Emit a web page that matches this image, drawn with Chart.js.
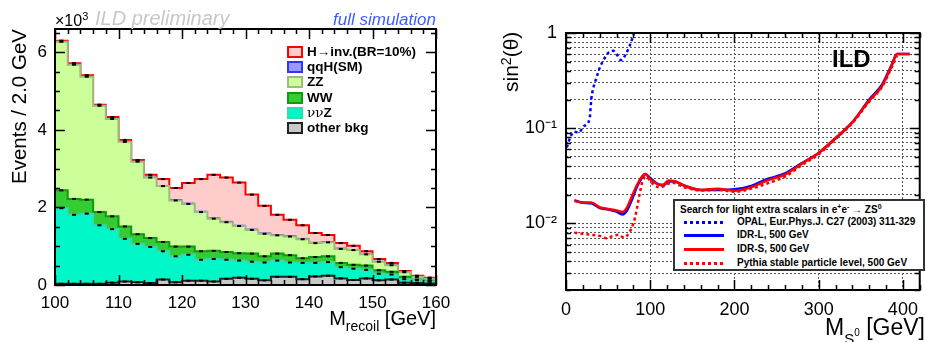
<!DOCTYPE html>
<html>
<head>
<meta charset="utf-8">
<title>ILD recoil mass and light scalar search</title>
<script src="https://cdn.jsdelivr.net/npm/chart.js@4.4.1/dist/chart.umd.min.js"></script>
<style>
  body { margin: 0; background: #fff; }
  #page { position: relative; width: 927px; height: 342px; overflow: hidden;
          font-family: "Liberation Sans", Arial, Helvetica, sans-serif; color: #000; }
  canvas { position: absolute; top: 0; }
  .t { position: absolute; white-space: nowrap; line-height: 1; }
  .rot { transform: rotate(-90deg); transform-origin: left top; }
  .sub { position: relative; }
  .leg-row { position: absolute; left: 0; height: 15px; white-space: nowrap;
             font-weight: bold; font-size: 13.5px; line-height: 15px; }
  .leg-box { position: absolute; left: 0; top: 2px; width: 12px; height: 8px; border: 2px solid; }
  .leg-txt { position: absolute; left: 20px; top: 0; }
  #scalarLegend { position: absolute; left: 673px; top: 199px; width: 248px; height: 68px;
                  border: 2px solid #333; background: #fff; }
  .sl-row { position: absolute; left: 0; height: 12px; width: 246px; }
  .sl-line { position: absolute; left: 9px; top: 5px; width: 40px; height: 3px; }
  .sl-txt { position: absolute; left: 62px; top: 0; font-weight: bold; font-size: 10px; line-height: 12px; white-space: nowrap; }
</style>
</head>
<body>
<div id="page">
  <canvas id="recoil" width="460" height="342" style="left:0"></canvas>
  <canvas id="scalar" width="467" height="342" style="left:460px"></canvas>

  <!-- left panel texts -->
  <div class="t rot" style="left:9px;top:184px;font-size:20.5px">Events / 2.0 GeV</div>
  <div class="t" style="left:55px;top:13px;font-size:16px">×10<span class="sub" style="top:-6px;font-size:11px">3</span></div>
  <div class="t" style="left:95px;top:8px;font-size:20px;font-style:italic;color:#c8c8c8">ILD preliminary</div>
  <div class="t" style="right:491px;top:11px;font-size:17px;font-style:italic;color:#3d5cff">full simulation</div>
  <div class="t" style="right:491px;top:308px;font-size:20px">M<span class="sub" style="top:6px;font-size:14px">recoil</span> [GeV]</div>
  <div id="recoilLegend" style="position:absolute;left:287px;top:44px;width:150px;height:95px"></div>

  <!-- right panel texts -->
  <div class="t rot" style="left:500px;top:92px;font-size:21px">sin<span class="sub" style="top:-7px;font-size:14px">2</span>(θ)</div>
  <div class="t" style="left:832px;top:47px;font-size:24px;font-weight:bold">ILD</div>
  <div class="t" style="right:2px;top:316px;font-size:23px">M<span class="sub" style="top:9px;font-size:15px">S<span class="sub" style="top:-8px;font-size:10px">0</span></span> [GeV]</div>
  <div id="scalarLegend">
    <div class="t" style="left:5px;top:4px;font-size:10px;font-weight:bold">Search for light extra scalars in e<span class="sub" style="top:-4px;font-size:7px">+</span>e<span class="sub" style="top:-4px;font-size:7px">-</span> → ZS<span class="sub" style="top:-4px;font-size:7px">0</span></div>
  </div>
</div>

<script>
// ---------------- left panel: recoil mass, stacked (units of 10^3 events / 2 GeV) ----------------
const binLow = [100, 102, 104, 106, 108, 110, 112, 114, 116, 118, 120, 122, 124, 126, 128,
                130, 132, 134, 136, 138, 140, 142, 144, 146, 148, 150, 152, 154, 156, 158];
const binWidth = 2;

const otherBkg = [0.03, 0.03, 0.03, 0.03, 0.06, 0.09, 0.07, 0.05, 0.14, 0.07, 0.11, 0.11, 0.09, 0.16, 0.19,
                  0.16, 0.12, 0.21, 0.21, 0.15, 0.22, 0.24, 0.17, 0.13, 0.17, 0.12, 0.14, 0.06, 0.05, 0.04];
const nunuZ = [1.95, 1.78, 1.81, 1.51, 1.38, 1.10, 0.99, 0.93, 0.73, 0.67, 0.67, 0.54, 0.58, 0.49, 0.44,
               0.44, 0.46, 0.42, 0.37, 0.42, 0.35, 0.35, 0.29, 0.29, 0.22, 0.17, 0.13, 0.09, 0.07, 0.05];
const wwBkg = [0.46, 0.41, 0.36, 0.34, 0.33, 0.32, 0.25, 0.23, 0.24, 0.25, 0.21, 0.22, 0.21, 0.20, 0.19,
               0.21, 0.16, 0.18, 0.19, 0.12, 0.15, 0.15, 0.11, 0.10, 0.11, 0.09, 0.07, 0.06, 0.02, 0.02];
const zzBkg = [3.83, 3.46, 3.17, 2.74, 2.51, 2.18, 1.87, 1.56, 1.44, 1.19, 1.10, 1.01, 0.83, 0.77, 0.70,
               0.61, 0.58, 0.47, 0.48, 0.49, 0.36, 0.36, 0.36, 0.38, 0.29, 0.22, 0.17, 0.12, 0.07, 0.05];
const qqHsm = [0.01, 0.01, 0.01, 0.01, 0.01, 0.01, 0.01, 0.01, 0.01, 0.02, 0.02, 0.02, 0.02, 0.02, 0.02,
               0.02, 0.02, 0.02, 0.02, 0.02, 0.02, 0.02, 0.02, 0.01, 0.01, 0.01, 0.01, 0.01, 0.01, 0.01];
const hInv = [0.02, 0.03, 0.03, 0.02, 0.04, 0.04, 0.03, 0.06, 0.17, 0.30, 0.52, 0.83, 1.11, 1.13, 1.10,
              0.89, 0.70, 0.51, 0.41, 0.34, 0.24, 0.17, 0.13, 0.10, 0.07, 0.06, 0.05, 0.02, 0.02, 0.02];

// bottom of the stack first
const stackVals = [otherBkg, nunuZ, wwBkg, zzBkg, qqHsm, hInv];
const stackNames = ['other bkg', '<span style="font-family:\'DejaVu Serif\',serif;font-weight:normal">νν</span>Z',
                    'WW', 'ZZ', 'qqH(SM)', 'H→inv.(BR=10%)'];
const stackFill = ['#c8c8c8', '#00f8c8', '#33cc33', '#ccff99', '#9999ff', '#ffcccc'];
const stackLine = ['#222222', '#30dcb4', '#119911', '#9cbc7c', '#3333ff', '#ff0000'];

const recoilXTicks = [100, 110, 120, 130, 140, 150, 160];
const recoilYTicks = [0, 2, 4, 6];

// each bin as a step: value holds from the low edge to the next edge
function steps(vals) {
  const pts = binLow.map((x, i) => ({ x: x, y: vals[i] }));
  pts.push({ x: binLow[binLow.length - 1] + binWidth, y: vals[vals.length - 1] });
  return pts;
}

// draws ROOT-like ticks inside the frame plus the frame itself
const frameTicks = {
  id: 'frameTicks',
  afterDraw(chart, args, opts) {
    const ctx = chart.ctx, a = chart.chartArea;
    const xs = chart.scales.x, ys = chart.scales.y;
    ctx.save();
    ctx.strokeStyle = '#000';
    ctx.lineWidth = 1.5;
    ctx.beginPath();
    opts.x.forEach(([v, len]) => {
      const p = Math.round(xs.getPixelForValue(v)) + 0.5;
      ctx.moveTo(p, a.bottom); ctx.lineTo(p, a.bottom - len);
      ctx.moveTo(p, a.top); ctx.lineTo(p, a.top + len);
    });
    opts.y.forEach(([v, len]) => {
      const p = Math.round(ys.getPixelForValue(v)) + 0.5;
      ctx.moveTo(a.left, p); ctx.lineTo(a.left + len, p);
      ctx.moveTo(a.right, p); ctx.lineTo(a.right - len, p);
    });
    ctx.stroke();
    ctx.lineWidth = 2;
    ctx.strokeRect(a.left, a.top, a.right - a.left, a.bottom - a.top);
    ctx.restore();
  }
};

const recoilTickX = [];
for (let v = 100; v <= 160; v += 2) recoilTickX.push([v, v % 10 === 0 ? 10 : 5]);
const recoilTickY = [];
for (let k = 0; k <= 13; k++) recoilTickY.push([k * 0.5, k % 4 === 0 ? 10 : 5]);

const recoilSets = stackVals.map((vals, k) => ({
  label: stackNames[k],
  data: steps(vals),
  stepped: true,
  fill: k === 0 ? 'origin' : '-1',
  backgroundColor: stackFill[k],
  borderColor: stackLine[k],
  borderWidth: k === 4 ? 1 : 2,
  pointRadius: 0,
  order: 1
}));

// small black markers on top of each component
let running = binLow.map(() => 0);
stackVals.forEach((vals, k) => {
  running = running.map((r, i) => r + vals[i]);
  if (k === 4) return;
  recoilSets.push({
    label: 'marker' + k,
    data: running.map((r, i) => ({ x: binLow[i] + binWidth / 2, y: r })),
    yAxisID: 'ym',
    showLine: false,
    pointStyle: 'line',
    pointRadius: 2,
    pointBorderWidth: 2,
    pointBorderColor: '#000',
    order: 0
  });
});

new Chart(document.getElementById('recoil'), {
  type: 'line',
  data: { datasets: recoilSets },
  plugins: [frameTicks],
  options: {
    responsive: false,
    animation: false,
    layout: { padding: { left: 0, right: 24, top: 29, bottom: 0 } },
    plugins: {
      legend: { display: false },
      tooltip: { enabled: false },
      frameTicks: { x: recoilTickX, y: recoilTickY }
    },
    scales: {
      x: {
        type: 'linear', min: 100, max: 160,
        grid: { display: false, drawTicks: false },
        border: { display: false },
        ticks: { color: '#000', padding: 8, maxRotation: 0, autoSkip: false,
                 font: { size: 17, family: 'Liberation Sans' } },
        afterBuildTicks: s => { s.ticks = recoilXTicks.map(v => ({ value: v })); },
        afterFit: s => { s.height = 57; }
      },
      y: {
        stacked: true, min: 0, max: 6.6,
        grid: { display: false, drawTicks: false },
        border: { display: false },
        ticks: { color: '#000', padding: 8, autoSkip: false,
                 font: { size: 17, family: 'Liberation Sans' } },
        afterBuildTicks: s => { s.ticks = recoilYTicks.map(v => ({ value: v })); },
        afterFit: s => { s.width = 55; }
      },
      ym: { display: false, min: 0, max: 6.6 }
    }
  }
});

// HTML legend, top row = top of the stack
const recoilLegend = document.getElementById('recoilLegend');
for (let k = stackVals.length - 1, row = 0; k >= 0; k--, row++) {
  const r = document.createElement('div');
  r.className = 'leg-row';
  r.style.top = (row * 15.2) + 'px';
  r.innerHTML = '<div class="leg-box" style="background:' + stackFill[k] + ';border-color:' +
                (k === 0 ? '#222' : stackLine[k]) + '"></div><div class="leg-txt">' + stackNames[k] + '</div>';
  recoilLegend.appendChild(r);
}

// ---------------- right panel: sin^2(theta) limits vs scalar mass ----------------
const opalMass = [1, 5, 10, 15, 21, 28, 30, 32, 36, 40, 44, 51, 56, 60, 65, 71, 76, 81, 84];
const opalSin2 = [0.063, 0.080, 0.092, 0.090, 0.105, 0.125, 0.20, 0.255, 0.335, 0.43, 0.51, 0.63, 0.65,
                  0.60, 0.52, 0.60, 0.75, 1.0, 1.2];

const idrMass = [10, 20, 30, 40, 50, 60, 67, 72, 78, 84, 90, 94, 100, 108, 115, 122, 128, 140, 160, 180,
                 200, 220, 240, 260, 280, 300, 320, 340, 360, 375, 387, 393, 408];
const idrL = [0.0175, 0.0165, 0.0163, 0.0145, 0.0140, 0.0133, 0.0124, 0.0135, 0.0175, 0.024, 0.030, 0.033,
              0.030, 0.0262, 0.0250, 0.0275, 0.0276, 0.0250, 0.0225, 0.0225, 0.0228, 0.0248, 0.0295, 0.0335,
              0.043, 0.055, 0.078, 0.115, 0.20, 0.285, 0.47, 0.60, 0.60];
const idrS = [0.0172, 0.0166, 0.0166, 0.0148, 0.0142, 0.0137, 0.0132, 0.0145, 0.019, 0.025, 0.031, 0.033,
              0.029, 0.026, 0.0255, 0.0282, 0.0280, 0.0250, 0.0225, 0.0232, 0.0220, 0.0240, 0.0285, 0.0325,
              0.0425, 0.055, 0.079, 0.116, 0.195, 0.275, 0.46, 0.60, 0.60];

const pythiaMass = [10, 20, 30, 40, 48, 56, 62, 69, 75, 80, 84, 87, 91, 95, 100, 105, 112, 120, 126, 140,
                    160, 180, 200, 220, 240, 260, 280, 300, 320, 340, 360, 375, 387, 393];
const pythiaSin2 = [0.0080, 0.0078, 0.0076, 0.0074, 0.0070, 0.0074, 0.0076, 0.0071, 0.0080, 0.0100, 0.0140,
                    0.0195, 0.028, 0.031, 0.028, 0.025, 0.0240, 0.0258, 0.0268, 0.0240, 0.0222, 0.0225,
                    0.0215, 0.0232, 0.0265, 0.031, 0.041, 0.053, 0.077, 0.113, 0.19, 0.27, 0.44, 0.58];

const scalarNames = ['OPAL, Eur.Phys.J. C27 (2003) 311-329', 'IDR-L, 500 GeV', 'IDR-S, 500 GeV',
                     'Pythia stable particle level, 500 GeV'];
const scalarColor = ['#0000ff', '#0000ff', '#ff0000', '#ff0000'];
const scalarDotted = [true, false, false, true];

const scalarXTicks = [0, 100, 200, 300, 400];
const scalarYLabelVals = [0.01, 0.1, 1];
const scalarYLabelText = ['10⁻²', '10⁻¹', '1'];

// log grid: 2..9 x each decade between 0.002 and 1
const scalarYGrid = [];
const scalarTickY = [];
for (let d = -3; d <= 0; d++) {
  for (let m = 1; m <= 9; m++) {
    const v = m * Math.pow(10, d);
    if (v < 0.002 - 1e-9 || v > 1 + 1e-9) continue;
    scalarYGrid.push(v);
    scalarTickY.push([v, m === 1 ? 10 : 5]);
  }
}
const scalarTickX = [];
for (let v = 0; v <= 420; v += 20) scalarTickX.push([v, v % 100 === 0 ? 10 : 5]);

function pairs(xs, ys) { return xs.map((x, i) => ({ x: x, y: ys[i] })); }

const scalarSeries = [pairs(opalMass, opalSin2), pairs(idrMass, idrL), pairs(idrMass, idrS),
                      pairs(pythiaMass, pythiaSin2)];
const scalarOrder = [3, 2, 0, 1];

new Chart(document.getElementById('scalar'), {
  type: 'line',
  data: {
    datasets: scalarSeries.map((pts, k) => ({
      label: scalarNames[k],
      data: pts,
      borderColor: scalarColor[k],
      borderWidth: 2.5,
      borderDash: scalarDotted[k] ? [3, 3] : [],
      borderCapStyle: 'butt',
      pointRadius: 0,
      fill: false,
      cubicInterpolationMode: 'monotone',
      order: scalarOrder[k]
    }))
  },
  plugins: [frameTicks],
  options: {
    responsive: false,
    animation: false,
    layout: { padding: { left: 0, right: 2, top: 33, bottom: 0 } },
    plugins: {
      legend: { display: false },
      tooltip: { enabled: false },
      frameTicks: { x: scalarTickX, y: scalarTickY }
    },
    scales: {
      x: {
        type: 'linear', min: 0, max: 420,
        grid: { color: '#555', lineWidth: 1, drawTicks: false },
        border: { display: false, dash: [2, 2] },
        ticks: { color: '#000', padding: 9, maxRotation: 0, autoSkip: false,
                 font: { size: 18, family: 'Liberation Sans' } },
        afterBuildTicks: s => { s.ticks = scalarXTicks.map(v => ({ value: v })); },
        afterFit: s => { s.height = 52; }
      },
      y: {
        type: 'logarithmic', min: 0.002, max: 1,
        grid: { color: '#555', lineWidth: 1, drawTicks: false },
        border: { display: false, dash: [2, 2] },
        ticks: {
          color: '#000', padding: 9, autoSkip: false,
          font: { size: 18, family: 'Liberation Sans' },
          callback: v => {
            const k = scalarYLabelVals.findIndex(t => Math.abs(t - v) < v * 1e-6);
            return k >= 0 ? scalarYLabelText[k] : '';
          }
        },
        afterBuildTicks: s => { s.ticks = scalarYGrid.map(v => ({ value: v })); },
        afterFit: s => { s.width = 106; }
      }
    }
  }
});

// legend rows of the right panel
const scalarLegend = document.getElementById('scalarLegend');
scalarNames.forEach((name, k) => {
  const r = document.createElement('div');
  r.className = 'sl-row';
  r.style.top = (14.5 + k * 13.8) + 'px';
  const c = scalarColor[k];
  const bg = scalarDotted[k]
    ? 'repeating-linear-gradient(90deg,' + c + ' 0 3px,transparent 3px 6px)'
    : c;
  r.innerHTML = '<div class="sl-line" style="background:' + bg + '"></div><div class="sl-txt">' + name + '</div>';
  scalarLegend.appendChild(r);
});
</script>
</body>
</html>
